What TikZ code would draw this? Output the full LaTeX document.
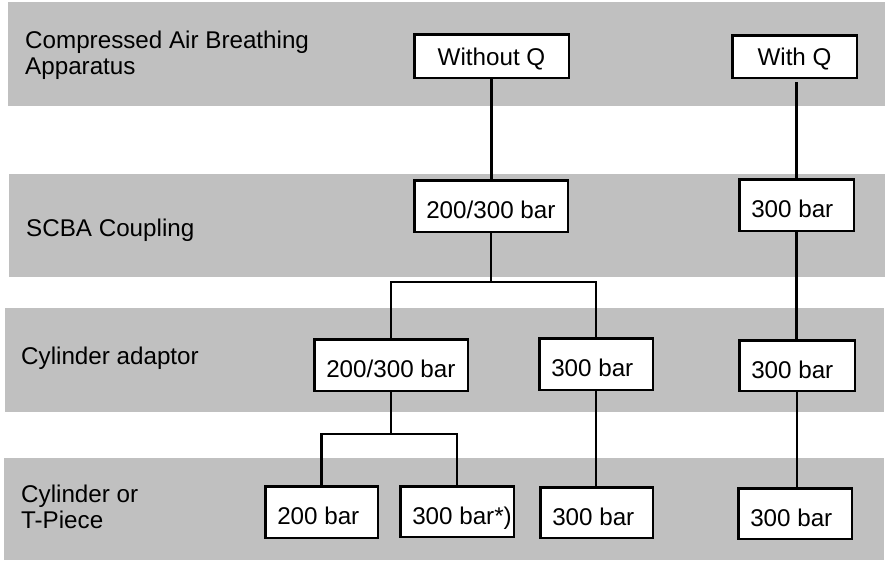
\documentclass[tikz,border=0pt]{standalone}
\usepackage{fontspec}
\setmainfont{Liberation Sans}
\definecolor{bandgray}{RGB}{192,192,192}
\newcommand\lbx[2]{\makebox[#1][l]{\hspace{12pt}#2}}
\begin{document}
\begin{tikzpicture}[x=1pt,y=-1pt,
  font=\fontsize{24.2}{26.5}\selectfont,
  bx/.style={draw, line width=2.5pt, fill=white, inner xsep=0pt, inner ysep=0pt, text height=25pt, text depth=0pt},
  cbx/.style={draw, line width=2.5pt, fill=white, inner sep=0pt, text height=18pt, text depth=0pt, align=center},
  lbl/.style={inner sep=0pt, align=left},
  link/.style={line width=2.5pt}]
\useasboundingbox (0,0) rectangle (889,560);
% bands
\fill[bandgray] (8,2) rectangle (885,106);
\fill[bandgray] (9,174) rectangle (885,277);
\fill[bandgray] (5,308) rectangle (884,412);
\fill[bandgray] (4,458) rectangle (884,560);
% row labels
\node[lbl, anchor=north west] (l1) at (25,30.5) {Compressed Air Breathing\\Apparatus};
\node[lbl, anchor=base west] (l2) at (26,236.5) {SCBA Coupling};
\node[lbl, anchor=base west] (l3) at (21,364) {Cylinder adaptor};
\node[lbl, anchor=north west] (l4) at (21,484.7) {Cylinder or\\T-Piece};
% boxes
\node[cbx, minimum width=154.5pt, minimum height=43.5pt] (woq) at (491.5,56) {Without Q};
\node[cbx, minimum width=124.5pt, minimum height=42.5pt] (wq) at (794.5,56.5) {With Q};
\node[bx, minimum height=51.5pt] (c1) at (491,206) {\lbx{153.5pt}{200/300 bar}};
\node[bx, minimum height=51.5pt] (c2) at (796.5,205) {\lbx{114.5pt}{300 bar}};
\node[bx, minimum height=51.5pt] (a1) at (391,365) {\lbx{153.5pt}{200/300 bar}};
\node[bx, minimum height=51.5pt] (a2) at (596,364) {\lbx{113.5pt}{300 bar}};
\node[bx, minimum height=50.5pt] (a3) at (797,365.5) {\lbx{115.5pt}{300 bar}};
\node[bx, minimum height=51.5pt] (b1) at (321.5,512) {\lbx{112.5pt}{200 bar}};
\node[bx, minimum height=50.5pt] (b2) at (457,511.5) {\lbx{113.5pt}{300 bar*)}};
\node[bx, minimum height=50.5pt] (b3) at (596.5,512.5) {\lbx{112.5pt}{300 bar}};
\node[bx, minimum height=50.5pt] (b4) at (795,513.5) {\lbx{113.5pt}{300 bar}};
% junctions
\coordinate (j1) at (491,282);
\coordinate (j2) at (391,434);
% connectors
\draw[link] (woq.south) -- (woq.south |- c1.north);
\draw[link] (c1.south) -- (j1);
\draw[link] (a1.north) |- (j1) -| (a2.north);
\draw[link] (a1.south) -- (j2);
\draw[link] (b1.north) |- (j2) -| (b2.north);
\draw[link] (a2.south) -- (a2.south |- b3.north);
\draw[link, shorten >=3pt] (c2.north) -- (c2.north |- wq.south);
\draw[link] (c2.south) -- (c2.south |- a3.north);
\draw[link] (a3.south) -- (a3.south |- b4.north);
\end{tikzpicture}
\end{document}
